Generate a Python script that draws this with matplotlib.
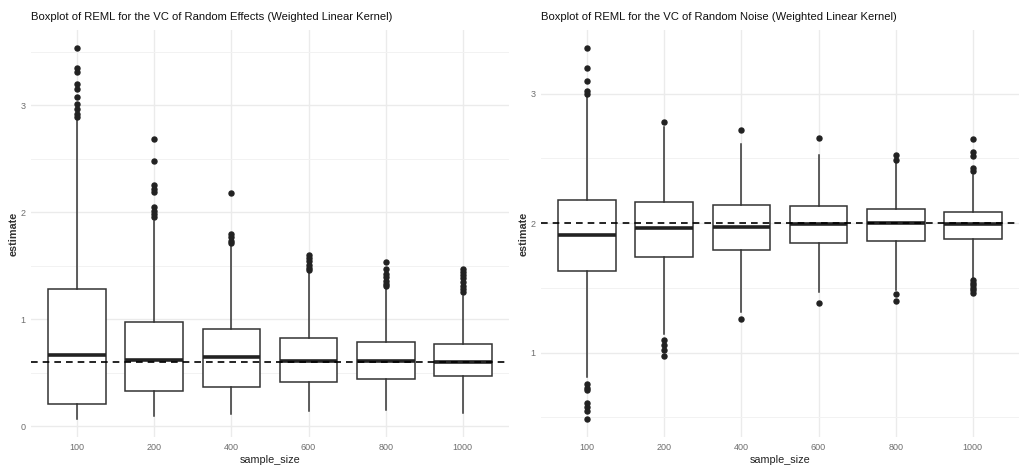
import matplotlib.pyplot as plt
import numpy as np

sample_sizes = ["100", "200", "400", "600", "800", "1000"]

# left panel: VC of random effects
re_q1 = [0.21, 0.33, 0.37, 0.41, 0.44, 0.47]
re_med = [0.66, 0.62, 0.65, 0.61, 0.61, 0.60]
re_q3 = [1.28, 0.97, 0.905, 0.82, 0.79, 0.77]
re_lo = [0.07, 0.09, 0.115, 0.14, 0.15, 0.125]
re_hi = [2.87, 1.92, 1.70, 1.43, 1.29, 1.22]
re_out = [
    [3.53, 3.35, 3.31, 3.20, 3.15, 3.08, 3.01, 2.96, 2.92, 2.89],
    [2.68, 2.48, 2.25, 2.22, 2.19, 2.05, 2.01, 1.98, 1.95],
    [2.18, 1.80, 1.77, 1.73, 1.71],
    [1.60, 1.57, 1.54, 1.51, 1.48, 1.46],
    [1.53, 1.47, 1.42, 1.39, 1.36, 1.33, 1.31],
    [1.47, 1.44, 1.41, 1.38, 1.35, 1.31, 1.28, 1.25],
]
re_true = 0.6

# right panel: VC of random noise
rn_q1 = [1.63, 1.74, 1.79, 1.845, 1.86, 1.88]
rn_med = [1.91, 1.96, 1.97, 1.99, 2.00, 1.99]
rn_q3 = [2.18, 2.16, 2.14, 2.13, 2.11, 2.09]
rn_lo = [0.81, 1.14, 1.31, 1.465, 1.48, 1.58]
rn_hi = [2.99, 2.74, 2.61, 2.53, 2.47, 2.37]
rn_out = [
    [3.35, 3.20, 3.10, 3.02, 3.00, 0.76, 0.73, 0.71, 0.61, 0.58, 0.55, 0.49],
    [2.78, 1.10, 1.06, 1.02, 0.97],
    [2.72, 1.26],
    [2.66, 1.38],
    [2.53, 2.49, 1.45, 1.40],
    [2.65, 2.55, 2.52, 2.43, 2.40, 1.56, 1.54, 1.52, 1.50, 1.48, 1.46],
]
rn_true = 2.0

narrow = ["Liberation Sans Narrow", "Liberation Sans", "DejaVu Sans"]


def panel(ax, title, q1, med, q3, lo, hi, out, true_val, yticks, minor):
    stats = []
    for i in range(len(sample_sizes)):
        stats.append(dict(q1=q1[i], med=med[i], q3=q3[i], whislo=lo[i],
                          whishi=hi[i], fliers=out[i], label=sample_sizes[i]))
    pos = np.arange(1, len(sample_sizes) + 1)
    ax.bxp(stats, positions=pos, widths=0.75, showcaps=False, patch_artist=True,
           boxprops=dict(facecolor="white", edgecolor="#333333", linewidth=1.1),
           whiskerprops=dict(color="#333333", linewidth=1.1),
           medianprops=dict(color="#222222", linewidth=2.6),
           flierprops=dict(marker="o", markerfacecolor="#222222",
                           markeredgecolor="#222222", markersize=3.6),
           zorder=3)
    ax.axhline(true_val, color="black", linestyle=(0, (4, 3)), linewidth=1.2, zorder=4)

    allv = lo + hi + [v for o in out for v in o]
    lo_lim, hi_lim = min(allv), max(allv)
    pad = 0.05 * (hi_lim - lo_lim)
    ax.set_ylim(lo_lim - pad, hi_lim + pad)
    ax.set_xlim(0.4, len(sample_sizes) + 0.6)

    ax.set_yticks(yticks)
    ax.set_yticklabels([str(t) for t in yticks])
    ax.set_yticks(minor, minor=True)
    ax.set_xticks(pos)
    ax.set_xticklabels(sample_sizes)
    ax.grid(True, which="major", color="#EBEBEB", linewidth=1.0, zorder=0)
    ax.grid(True, which="minor", axis="y", color="#F2F2F2", linewidth=0.7, zorder=0)
    ax.set_axisbelow(True)
    for s in ax.spines.values():
        s.set_visible(False)
    ax.tick_params(which="both", length=0, labelsize=6.5, labelcolor="#6E6E6E")
    ax.tick_params(axis="x", pad=4.5)
    ax.tick_params(axis="y", pad=4)
    for lab in ax.get_xticklabels() + ax.get_yticklabels():
        lab.set_family(narrow)

    ax.set_xlabel("sample_size", family=narrow, fontsize=7.8, color="#222222", labelpad=2)
    ax.set_ylabel("estimate", family=["Liberation Sans", "DejaVu Sans"],
                  fontsize=7.8, fontweight="bold", color="#333333", labelpad=1)
    ax.set_title(title, family=narrow, fontsize=8.1, color="#111111", loc="left", pad=7)


fig = plt.figure(figsize=(10.2, 4.68), dpi=100)
ax1 = fig.add_axes([0.0304, 0.066, 0.4686, 0.87])
ax2 = fig.add_axes([0.5304, 0.066, 0.4686, 0.87])

panel(ax1, "Boxplot of REML for the VC of Random Effects (Weighted Linear Kernel)",
      re_q1, re_med, re_q3, re_lo, re_hi, re_out, re_true, [0, 1, 2, 3], [0.5, 1.5, 2.5, 3.5])
panel(ax2, "Boxplot of REML for the VC of Random Noise (Weighted Linear Kernel)",
      rn_q1, rn_med, rn_q3, rn_lo, rn_hi, rn_out, rn_true, [1, 2, 3], [0.5, 1.5, 2.5])

fig.savefig("out.png", dpi=100)
